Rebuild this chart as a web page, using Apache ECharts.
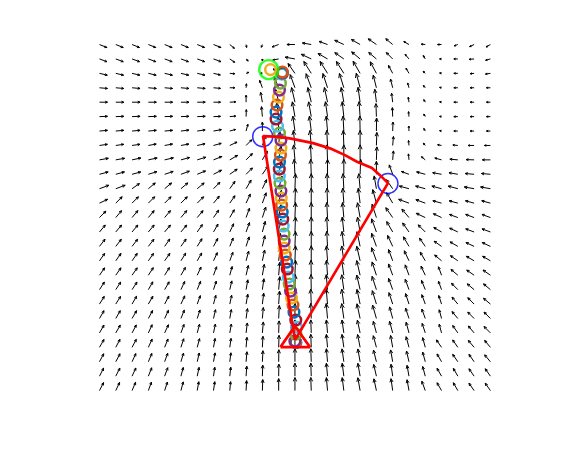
<!DOCTYPE html>
<html>
<head>
    <meta charset="utf-8">
    <script src="https://cdn.jsdelivr.net/npm/echarts@6/dist/echarts.min.js"></script>
</head>
<body style="margin:0;background:#fff">
    <div id="main" style="width: 570px;height:450px;"></div>
    <script type="text/javascript">
        // quiver field, 25 x 25, row 0 = top row; angle in degrees (0 = right, 90 = up), length in px
        var angleRows = [
            [-22,-22,-22,-22,-22,-22,-22,-22,-40,-80,-110,200,180,170,160,155,150,145,140,150,175,180,200,205,210],
            [-20,-20,-20,-20,-20,-20,-20,-20,-35,-45,-90,190,170,155,150,145,140,140,135,130,120,180,180,185,195],
            [-13,-13,-13,-13,-13,-13,-13,-13,-5,20,180,140,125,122,122,122,120,118,118,120,135,170,180,185,188],
            [-5,-5,-5,-5,-5,-5,-5,-5,0,85,110,112,110,110,108,107,105,104,104,105,130,170,180,180,180],
            [0,0,0,0,0,0,0,0,3,90,100,103,103,103,102,100,98,97,97,98,120,170,180,180,180],
            [2,2,2,2,2,2,2,2,5,88,95,98,100,100,98,96,94,92,92,95,120,175,180,180,180],
            [5,5,5,5,5,7,8,10,15,75,90,92,98,97,95,93,91,89,88,92,120,170,180,180,180],
            [8,8,8,10,10,10,12,15,25,45,70,85,96,95,93,92,90,88,85,95,130,170,175,180,180],
            [10,10,12,12,13,15,17,22,30,45,60,80,95,93,92,90,90,88,85,95,140,165,175,178,180],
            [15,15,15,17,18,20,22,27,35,45,55,78,93,92,90,90,88,90,110,160,165,170,170,175,175],
            [20,20,35,40,40,40,40,45,55,60,65,75,88,90,92,93,95,100,125,165,165,165,165,170,170],
            [25,45,45,45,45,45,45,50,55,65,70,78,88,90,92,94,97,105,120,160,160,165,165,165,165],
            [45,50,50,50,50,50,50,55,60,70,72,80,88,90,93,95,100,108,125,130,155,155,160,160,160],
            [50,50,50,50,50,50,55,60,65,70,75,80,88,90,93,96,100,110,120,125,135,150,155,160,160],
            [52,52,52,52,55,55,58,62,68,72,77,82,88,90,93,97,102,110,115,120,125,145,150,155,155],
            [55,55,55,55,55,58,60,65,70,75,78,83,88,90,94,98,103,110,110,115,120,140,145,150,150],
            [55,55,55,57,58,60,65,70,75,77,80,85,88,91,94,98,103,108,110,110,115,110,140,145,145],
            [57,57,57,60,60,65,68,72,77,80,82,85,89,91,95,98,103,108,110,110,112,110,135,140,140],
            [58,58,60,60,62,65,70,75,78,80,83,86,89,92,95,98,102,107,108,108,110,108,130,135,140],
            [60,60,60,62,65,68,72,77,80,82,85,87,90,92,95,98,102,106,105,108,110,105,130,135,135],
            [60,60,62,65,65,70,75,78,80,83,85,88,90,92,95,98,102,105,105,105,108,105,125,130,135],
            [60,62,62,65,68,72,75,80,82,85,87,88,90,92,95,98,101,105,100,105,105,125,125,130,130],
            [62,62,65,67,70,73,77,80,83,85,87,89,90,92,95,98,100,104,100,103,105,120,125,125,130],
            [63,63,65,68,70,75,78,82,84,86,88,89,90,92,95,97,100,103,98,100,105,120,120,125,125],
            [63,65,67,70,72,75,80,82,85,87,88,90,90,92,95,97,100,102,98,100,110,120,120,125,125]
        ];
        var lengthRows = [
            [8,8,8,8,8,8,8,8,6,3,3,7,8,9,9,10,10,10,9,6,4,4,4,5,5],
            [8,8,8,8,8,8,8,8,6,3,2,6,10,11,11,11,11,10,9,6,4,2,4,5,5],
            [8,8,8,8,8,8,8,7,5,3,2,7,12,14,14,14,14,13,9,6,3,2,4,4,5],
            [8,8,8,8,8,8,8,7,5,4,8,12,14,15,15,15,15,13,9,5,3,2,4,4,4],
            [8,8,8,8,8,8,8,7,6,7,10,13,15,15,15,15,15,13,9,5,3,2,4,4,4],
            [8,8,8,8,8,8,8,7,6,7,10,14,15,15,15,15,15,13,9,5,3,2,4,4,4],
            [8,8,8,8,8,8,8,8,6,7,9,14,15,15,15,15,15,13,9,5,3,2,4,4,4],
            [8,8,8,8,8,8,8,8,8,8,10,14,15,15,15,15,15,13,9,5,3,4,5,6,6],
            [9,9,9,9,9,9,9,9,9,9,10,14,15,15,15,15,15,13,9,6,5,7,8,8,8],
            [9,9,9,9,9,9,9,9,9,9,10,14,15,15,15,15,15,13,10,8,9,9,9,9,9],
            [10,10,9,9,9,9,9,9,9,10,10,13,15,15,15,15,15,13,11,10,10,10,10,10,10],
            [9,9,9,9,9,9,9,9,9,10,11,13,15,15,15,15,15,14,12,11,10,9,9,9,9],
            [9,9,9,9,9,9,9,9,9,10,11,13,15,15,15,15,15,14,12,11,10,9,9,9,9],
            [9,9,9,9,9,9,9,9,9,10,11,13,15,15,15,15,15,14,12,11,10,9,9,9,9],
            [9,9,9,9,9,9,9,9,9,10,11,13,15,15,15,15,15,14,12,11,10,9,9,9,9],
            [9,9,9,9,9,9,9,9,9,10,11,13,15,15,15,15,15,14,12,11,10,9,9,9,9],
            [9,9,9,9,9,9,9,9,9,10,11,13,15,15,15,15,15,14,12,11,10,9,9,9,9],
            [9,9,9,9,9,9,9,9,9,10,11,13,15,15,15,15,15,14,12,11,10,9,9,9,9],
            [9,9,9,9,9,9,9,9,9,10,11,13,15,15,15,15,15,14,12,11,10,9,9,9,9],
            [9,9,9,9,9,9,9,9,9,10,11,13,15,15,15,15,15,14,12,11,10,9,9,9,9],
            [9,9,9,9,9,9,9,9,9,10,11,12,13,13,13,13,13,12,12,11,10,9,9,9,9],
            [9,9,9,9,9,9,9,9,9,10,11,12,13,13,13,13,13,12,12,11,10,9,9,9,9],
            [9,9,9,9,9,9,9,9,9,10,11,12,13,13,13,13,13,12,12,11,10,9,9,9,9],
            [9,9,9,9,9,9,9,9,9,10,11,12,13,13,13,13,13,12,12,11,10,9,9,9,9],
            [9,9,9,9,9,9,9,9,9,10,11,12,13,13,13,13,13,12,12,11,10,9,9,9,9]
        ];

        // goal, obstacles, robot and its view sector (grid units)
        var goal = [[10.39, 22.26]];
        var obstacles = [[10.02, 17.61], [17.71, 14.36]];
        var robotTriangle = [[11.11, 3.02], [12.92, 3.02], [12.00, 4.47], [11.11, 3.02]];
        var sectorX = [12.00, 10.04, 10.77, 11.69, 13.11, 14.15, 15.07, 15.81, 16.73, 17.22, 17.71, 12.00];
        var sectorY = [3.50, 17.65, 17.61, 17.49, 17.16, 16.80, 16.33, 15.87, 15.43, 14.94, 14.39, 3.50];

        // path of the robot, in plotting order
        var pathX = [12.06, 12.03, 12.00,
            12.00, 12.06, 12.09, 12.05, 11.94, 11.88, 11.79, 11.73, 11.65, 11.59,
            11.53, 11.49, 11.41, 11.34, 11.34, 11.33, 11.28, 11.25, 11.22, 11.18,
            11.16, 11.14, 11.08, 11.04, 11.04, 11.05, 11.11, 11.14, 11.14, 11.05,
            10.93, 10.84, 10.84, 10.90, 10.99, 11.05, 11.11, 11.20, 11.23, 11.20,
            11.23, 10.50];
        var pathY = [3.33, 3.36, 3.40,
            3.43, 3.92, 4.40, 4.89, 5.44, 5.93, 6.42, 6.90, 7.39, 7.87,
            8.43, 8.91, 9.40, 9.88, 10.37, 10.85, 11.41, 11.89, 12.38, 12.86,
            13.35, 13.84, 14.39, 14.88, 15.36, 15.85, 16.33, 16.82, 17.37, 17.86,
            18.34, 18.83, 19.31, 19.80, 20.35, 20.84, 21.32, 21.95, 22.02, 22.05,
            22.09, 22.26];

        var colorOrder = ['#0072BD', '#D95319', '#EDB120', '#7E2F8E', '#77AC30', '#4DBEEE', '#A2142F'];

        var quiver = [];
        for (var r = 0; r < angleRows.length; r++) {
            for (var c = 0; c < angleRows[r].length; c++) {
                quiver.push([c, 24 - r, angleRows[r][c], lengthRows[r][c]]);
            }
        }

        var pathData = [];
        for (var i = 0; i < pathX.length; i++) {
            pathData.push([pathX[i], pathY[i], i % 7]);
        }

        var sectorData = sectorX.map(function (x, i) { return [x, sectorY[i]]; });

        var myChart = echarts.init(document.getElementById('main'));

        var option = {
            animation: false,
            backgroundColor: '#fff',
            grid: { left: 83.2, top: 30.1, width: 423.5, height: 374.9 },
            xAxis: { type: 'value', min: -1, max: 25, show: false },
            yAxis: { type: 'value', min: -1, max: 25, show: false },
            series: [
                {
                    type: 'custom',
                    silent: true,
                    data: quiver,
                    encode: { x: 0, y: 1 },
                    renderItem: function (params, api) {
                        var p = api.coord([api.value(0), api.value(1)]);
                        var a = api.value(2) * Math.PI / 180;
                        var len = api.value(3);
                        var tip = [p[0] + len * Math.cos(a), p[1] - len * Math.sin(a)];
                        var h = Math.max(2, len * 0.32), w = 0.42;
                        var h1 = [tip[0] - h * Math.cos(a - w), tip[1] + h * Math.sin(a - w)];
                        var h2 = [tip[0] - h * Math.cos(a + w), tip[1] + h * Math.sin(a + w)];
                        return {
                            type: 'group',
                            children: [
                                { type: 'line', shape: { x1: p[0], y1: p[1], x2: tip[0], y2: tip[1] },
                                  style: { stroke: '#000', lineWidth: 1 } },
                                { type: 'polyline', shape: { points: [h1, tip, h2] },
                                  style: { stroke: '#000', fill: null, lineWidth: 1 } }
                            ]
                        };
                    }
                },
                {
                    // robot path circles, drawn one by one so later ones sit on top
                    type: 'custom',
                    silent: true,
                    data: pathData,
                    encode: { x: 0, y: 1 },
                    renderItem: function (params, api) {
                        var p = api.coord([api.value(0), api.value(1)]);
                        return {
                            type: 'circle',
                            shape: { cx: p[0], cy: p[1], r: 5.3 },
                            style: { fill: null, stroke: colorOrder[api.value(2)], lineWidth: 2.5 }
                        };
                    }
                },
                {
                    type: 'line',
                    silent: true,
                    data: sectorData,
                    symbol: 'none',
                    lineStyle: { color: '#ff0000', width: 2.7 }
                },
                {
                    type: 'line',
                    silent: true,
                    data: robotTriangle,
                    symbol: 'none',
                    lineStyle: { color: '#ff0000', width: 2.7 }
                },
                {
                    type: 'scatter',
                    silent: true,
                    data: obstacles,
                    symbol: 'circle',
                    symbolSize: 20,
                    itemStyle: { color: 'rgba(0,0,0,0)', borderColor: '#0000ff', borderWidth: 1.5 }
                },
                {
                    type: 'scatter',
                    silent: true,
                    data: goal,
                    symbol: 'circle',
                    symbolSize: 19,
                    itemStyle: { color: 'rgba(0,0,0,0)', borderColor: '#00ff00', borderWidth: 2.4 }
                }
            ]
        };

        myChart.setOption(option);
    </script>
</body>
</html>
